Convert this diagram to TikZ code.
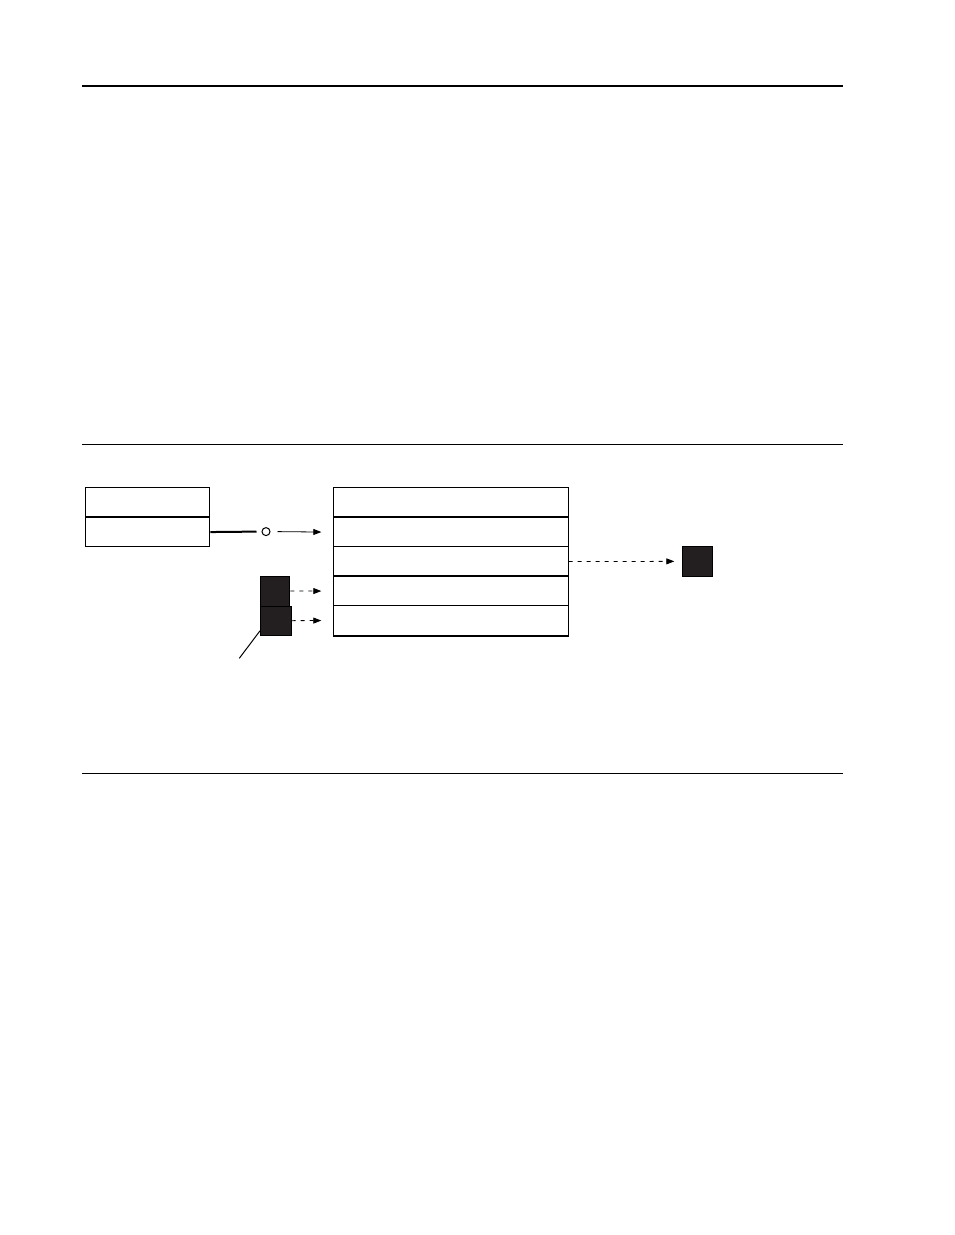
\documentclass[tikz,border=0pt]{standalone}
\usetikzlibrary{arrows.meta,calc}
\definecolor{blk}{HTML}{231F20}
\begin{document}
\begin{tikzpicture}[x=0.75pt,y=-0.75pt,
  thinln/.style={line width=0.75pt},
  thickln/.style={line width=1.5pt},
  cell/.style={draw,line width=0.75pt,minimum width=234.4*0.75pt,minimum height=29.5*0.75pt,inner sep=0pt,anchor=north west,fill=white},
  lcell/.style={draw,line width=0.75pt,minimum width=124.3*0.75pt,minimum height=29.5*0.75pt,inner sep=0pt,anchor=north west,fill=white},
  blkbox/.style={draw=black,fill=blk,line width=0.75pt,inner sep=0pt,anchor=north west},
  arr/.style={-{Triangle[length=6pt,width=4.5pt]},line width=0.6pt},
  darr/.style={arr,dash pattern=on 3pt off 3.75pt}
]
\useasboundingbox (0,0) rectangle (954,1235);

% horizontal rules
\coordinate (t1) at (82,86);  \coordinate (t2) at (843,86);
\coordinate (m1) at (82,444.3); \coordinate (m2) at (843,444.3);
\coordinate (u1) at (82,773.3); \coordinate (u2) at (843,773.3);
\draw[line width=1.6pt] (t1) -- (t2);
\draw[thinln] (m1) -- (m2);
\draw[thinln] (u1) -- (u2);

% left record
\node[lcell] (lt) at (85,487.3) {};
\node[lcell] (lb) at (85,516.8) {};
\draw[thickln] (lb.north west) -- (lb.north east);

% right record
\node[cell] (r1) at (333.3,487.3) {};
\node[cell] (r2) at (333.3,516.8) {};
\node[cell] (r3) at (333.3,546.3) {};
\node[cell] (r4) at (333.3,575.8) {};
\node[cell] (r5) at (333.3,605.3) {};
\draw[thickln] (r2.north west) -- (r2.north east);
\draw[thickln] (r4.north west) -- (r4.north east);
\draw[thickln] (r5.south west) -- (r5.south east);

% connector with small circle
\node[circle,draw,line width=0.75pt,minimum size=8*0.75pt,inner sep=0pt] (c) at (266,531.6) {};
\coordinate (cl) at (256.5,531.6);
\draw[thickln] (lb.east) -- (cl);
\draw[arr] ($(c.east)+(7,0)$) -- ($(r2.west)+(-12,0)$) coordinate (r2in);

% black boxes
\node[blkbox,minimum width=29.3*0.75pt,minimum height=30*0.75pt] (b1) at (260,575.5) {};
\node[blkbox,minimum width=30.5*0.75pt,minimum height=29.3*0.75pt] (b2) at (260,605.5) {};
\draw[darr] (b1.east) -- ($(r4.west)+(-12,0)$);
\draw[darr] (b2.east) -- ($(r5.west)+(-12,0)$);

% leader line
\coordinate (lead) at (239.3,658.3);
\draw[thinln] ($(b2.south west)+(0,-5)$) -- (lead);

% right black square
\node[blkbox,minimum width=29.4*0.75pt,minimum height=29.7*0.75pt] (b3) at (682.3,546) {};
\draw[darr] (r3.east) -- ($(b3.west)+(-8,0)$);
\end{tikzpicture}
\end{document}
